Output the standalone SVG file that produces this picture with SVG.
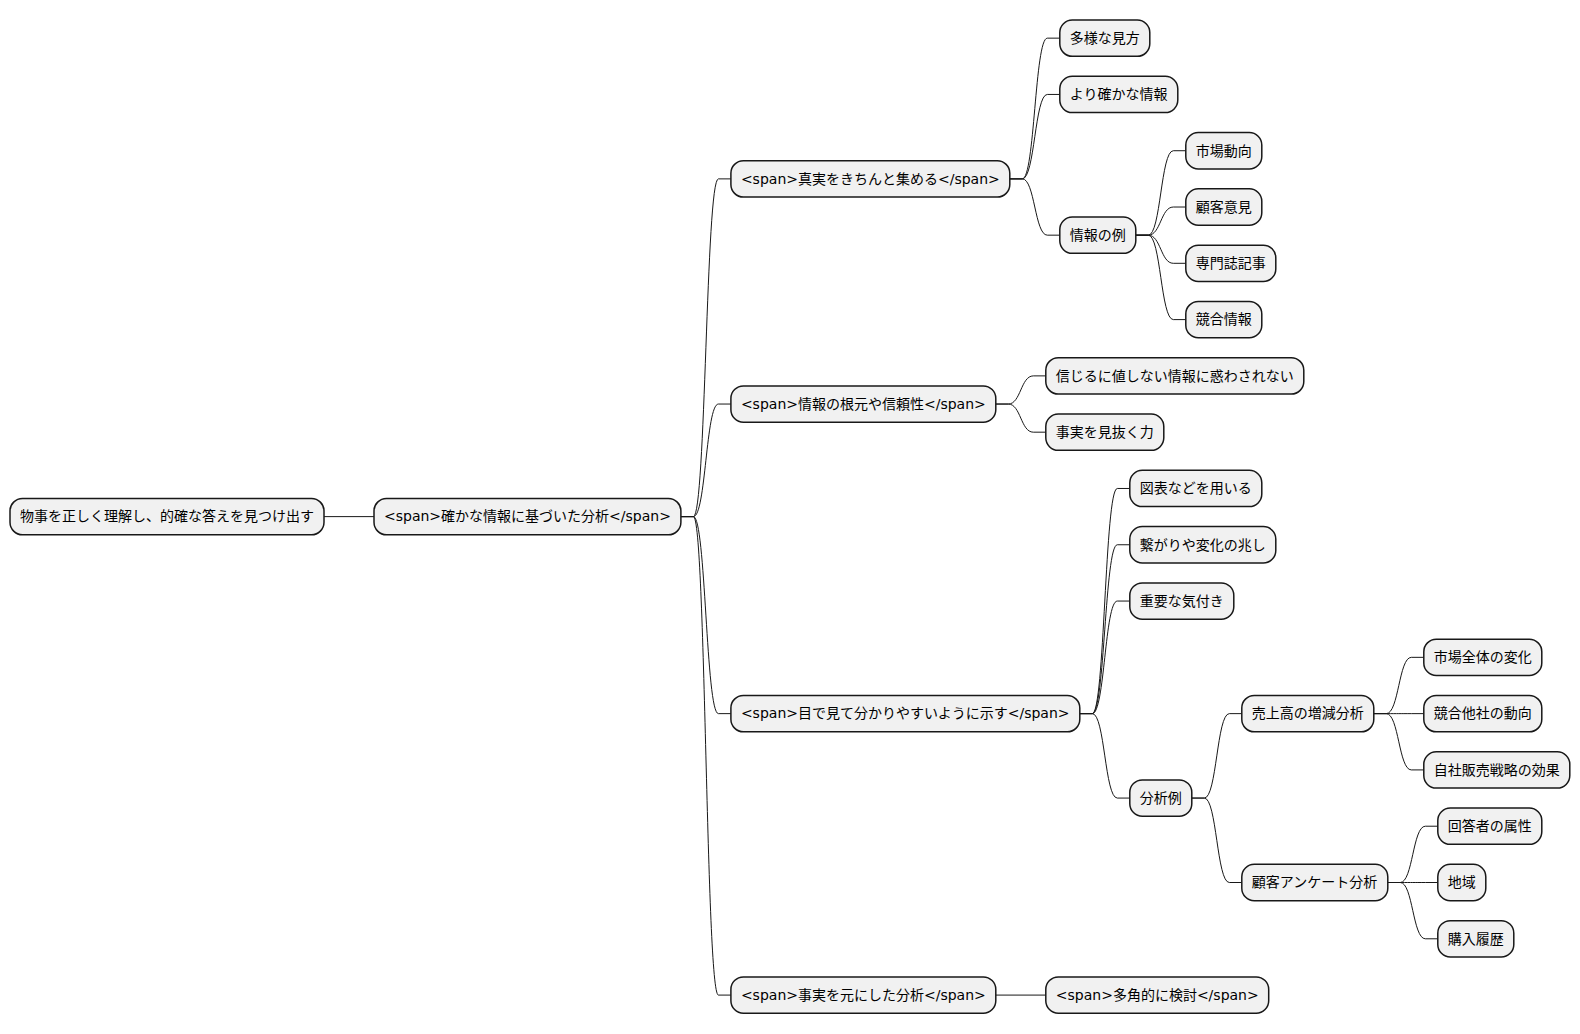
<svg xmlns="http://www.w3.org/2000/svg" width="1580" height="1034" viewBox="0 0 1580 1034">
<style>
rect{fill:#F1F1F1;stroke:#181818;stroke-width:1.5}
text{font-family:"DejaVu Sans","Noto Sans CJK JP",sans-serif;font-size:14px;fill:#000000}
.c path{fill:none;stroke:#181818;stroke-width:1}
</style>
<rect x="0" y="0" width="1580" height="1034" style="fill:#FFFFFF;stroke:none"/>
<g class="c" id="connectors">
<path d="M324 516.62 L374 516.62"/>
<path d="M680.9 516.62 l12.5 0 C705.9 516.62 705.9 178.88 718.4 178.88 L730.9 178.88"/>
<path d="M680.9 516.62 l12.5 0 C705.9 516.62 705.9 404.04 718.4 404.04 L730.9 404.04"/>
<path d="M680.9 516.62 l12.5 0 C705.9 516.62 705.9 713.63 718.4 713.63 L730.9 713.63"/>
<path d="M680.9 516.62 l12.5 0 C705.9 516.62 705.9 995.08 718.4 995.08 L730.9 995.08"/>
<path d="M1009.8 178.88 l12.5 0 C1034.8 178.88 1034.8 38.15 1047.3 38.15 L1059.8 38.15"/>
<path d="M1009.8 178.88 l12.5 0 C1034.8 178.88 1034.8 94.44 1047.3 94.44 L1059.8 94.44"/>
<path d="M1009.8 178.88 l12.5 0 C1034.8 178.88 1034.8 235.17 1047.3 235.17 L1059.8 235.17"/>
<path d="M1135.8 235.17 l12.5 0 C1160.8 235.17 1160.8 150.73 1173.3 150.73 L1185.8 150.73"/>
<path d="M1135.8 235.17 l12.5 0 C1160.8 235.17 1160.8 207.02 1173.3 207.02 L1185.8 207.02"/>
<path d="M1135.8 235.17 l12.5 0 C1160.8 235.17 1160.8 263.31 1173.3 263.31 L1185.8 263.31"/>
<path d="M1135.8 235.17 l12.5 0 C1160.8 235.17 1160.8 319.6 1173.3 319.6 L1185.8 319.6"/>
<path d="M995.8 404.04 l12.5 0 C1020.8 404.04 1020.8 375.89 1033.3 375.89 L1045.8 375.89"/>
<path d="M995.8 404.04 l12.5 0 C1020.8 404.04 1020.8 432.18 1033.3 432.18 L1045.8 432.18"/>
<path d="M1079.8 713.63 l12.5 0 C1104.8 713.63 1104.8 488.47 1117.3 488.47 L1129.8 488.47"/>
<path d="M1079.8 713.63 l12.5 0 C1104.8 713.63 1104.8 544.76 1117.3 544.76 L1129.8 544.76"/>
<path d="M1079.8 713.63 l12.5 0 C1104.8 713.63 1104.8 601.05 1117.3 601.05 L1129.8 601.05"/>
<path d="M1079.8 713.63 l12.5 0 C1104.8 713.63 1104.8 798.07 1117.3 798.07 L1129.8 798.07"/>
<path d="M1191.8 798.07 l12.5 0 C1216.8 798.07 1216.8 713.63 1229.3 713.63 L1241.8 713.63"/>
<path d="M1191.8 798.07 l12.5 0 C1216.8 798.07 1216.8 882.5 1229.3 882.5 L1241.8 882.5"/>
<path d="M1373.8 713.63 l12.5 0 C1398.8 713.63 1398.8 657.34 1411.3 657.34 L1423.8 657.34"/>
<path d="M1373.8 713.63 l12.5 0 C1398.8 713.63 1398.8 713.63 1411.3 713.63 L1423.8 713.63"/>
<path d="M1373.8 713.63 l12.5 0 C1398.8 713.63 1398.8 769.92 1411.3 769.92 L1423.8 769.92"/>
<path d="M1387.8 882.5 l12.5 0 C1412.8 882.5 1412.8 826.21 1425.3 826.21 L1437.8 826.21"/>
<path d="M1387.8 882.5 l12.5 0 C1412.8 882.5 1412.8 882.5 1425.3 882.5 L1437.8 882.5"/>
<path d="M1387.8 882.5 l12.5 0 C1412.8 882.5 1412.8 938.79 1425.3 938.79 L1437.8 938.79"/>
<path d="M995.8 995.08 L1045.8 995.08"/>
</g>
<g id="n-root"><rect x="10" y="498.47" width="314" height="36.3" rx="12.5"/><text x="20" y="521.46">物事を正しく理解し、的確な答えを見つけ出す</text></g>
<g id="n-l1"><rect x="374" y="498.47" width="306.9" height="36.3" rx="12.5"/><text x="384" y="521.46">&lt;span&gt;確かな情報に基づいた分析&lt;/span&gt;</text></g>
<g id="n-shinjitsu"><rect x="730.9" y="160.73" width="278.9" height="36.3" rx="12.5"/><text x="740.9" y="183.72">&lt;span&gt;真実をきちんと集める&lt;/span&gt;</text></g>
<g id="n-kongen"><rect x="730.9" y="385.89" width="264.9" height="36.3" rx="12.5"/><text x="740.9" y="408.88">&lt;span&gt;情報の根元や信頼性&lt;/span&gt;</text></g>
<g id="n-mede"><rect x="730.9" y="695.48" width="348.9" height="36.3" rx="12.5"/><text x="740.9" y="718.47">&lt;span&gt;目で見て分かりやすいように示す&lt;/span&gt;</text></g>
<g id="n-jijitsu"><rect x="730.9" y="976.93" width="264.9" height="36.3" rx="12.5"/><text x="740.9" y="999.92">&lt;span&gt;事実を元にした分析&lt;/span&gt;</text></g>
<g id="n-tayou"><rect x="1059.8" y="20" width="90" height="36.3" rx="12.5"/><text x="1069.8" y="42.99">多様な見方</text></g>
<g id="n-yori"><rect x="1059.8" y="76.29" width="118" height="36.3" rx="12.5"/><text x="1069.8" y="99.28">より確かな情報</text></g>
<g id="n-rei"><rect x="1059.8" y="217.02" width="76" height="36.3" rx="12.5"/><text x="1069.8" y="240.01">情報の例</text></g>
<g id="n-shijou"><rect x="1185.8" y="132.58" width="76" height="36.3" rx="12.5"/><text x="1195.8" y="155.57">市場動向</text></g>
<g id="n-kokyaku"><rect x="1185.8" y="188.87" width="76" height="36.3" rx="12.5"/><text x="1195.8" y="211.86">顧客意見</text></g>
<g id="n-senmon"><rect x="1185.8" y="245.16" width="90" height="36.3" rx="12.5"/><text x="1195.8" y="268.15">専門誌記事</text></g>
<g id="n-kyougou"><rect x="1185.8" y="301.45" width="76" height="36.3" rx="12.5"/><text x="1195.8" y="324.44">競合情報</text></g>
<g id="n-shinjiru"><rect x="1045.8" y="357.74" width="258" height="36.3" rx="12.5"/><text x="1055.8" y="380.73">信じるに値しない情報に惑わされない</text></g>
<g id="n-minuku"><rect x="1045.8" y="414.03" width="118" height="36.3" rx="12.5"/><text x="1055.8" y="437.02">事実を見抜く力</text></g>
<g id="n-zuhyou"><rect x="1129.8" y="470.32" width="132" height="36.3" rx="12.5"/><text x="1139.8" y="493.31">図表などを用いる</text></g>
<g id="n-tsunagari"><rect x="1129.8" y="526.61" width="146" height="36.3" rx="12.5"/><text x="1139.8" y="549.6">繋がりや変化の兆し</text></g>
<g id="n-juuyou"><rect x="1129.8" y="582.9" width="104" height="36.3" rx="12.5"/><text x="1139.8" y="605.89">重要な気付き</text></g>
<g id="n-bunsekirei"><rect x="1129.8" y="779.92" width="62" height="36.3" rx="12.5"/><text x="1139.8" y="802.91">分析例</text></g>
<g id="n-uriage"><rect x="1241.8" y="695.48" width="132" height="36.3" rx="12.5"/><text x="1251.8" y="718.47">売上高の増減分析</text></g>
<g id="n-enquete"><rect x="1241.8" y="864.35" width="146" height="36.3" rx="12.5"/><text x="1251.8" y="887.34">顧客アンケート分析</text></g>
<g id="n-zentai"><rect x="1423.8" y="639.19" width="118" height="36.3" rx="12.5"/><text x="1433.8" y="662.18">市場全体の変化</text></g>
<g id="n-tasha"><rect x="1423.8" y="695.48" width="118" height="36.3" rx="12.5"/><text x="1433.8" y="718.47">競合他社の動向</text></g>
<g id="n-jisha"><rect x="1423.8" y="751.77" width="146" height="36.3" rx="12.5"/><text x="1433.8" y="774.76">自社販売戦略の効果</text></g>
<g id="n-kaitousha"><rect x="1437.8" y="808.06" width="104" height="36.3" rx="12.5"/><text x="1447.8" y="831.05">回答者の属性</text></g>
<g id="n-chiiki"><rect x="1437.8" y="864.35" width="48" height="36.3" rx="12.5"/><text x="1447.8" y="887.34">地域</text></g>
<g id="n-kounyuu"><rect x="1437.8" y="920.64" width="76" height="36.3" rx="12.5"/><text x="1447.8" y="943.63">購入履歴</text></g>
<g id="n-takaku"><rect x="1045.8" y="976.93" width="222.9" height="36.3" rx="12.5"/><text x="1055.8" y="999.92">&lt;span&gt;多角的に検討&lt;/span&gt;</text></g>
</svg>
